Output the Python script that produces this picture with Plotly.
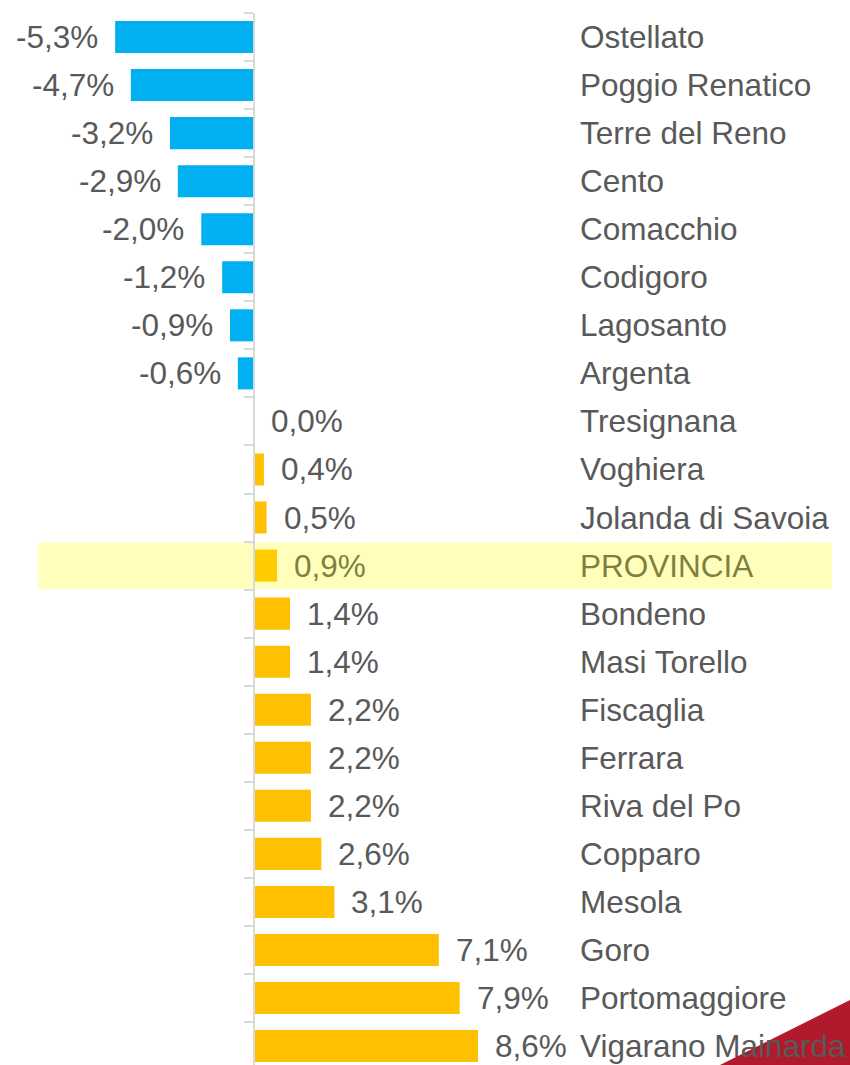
import plotly.graph_objects as go

categories = ["Ostellato", "Poggio Renatico", "Terre del Reno", "Cento", "Comacchio",
              "Codigoro", "Lagosanto", "Argenta", "Tresignana", "Voghiera",
              "Jolanda di Savoia", "PROVINCIA", "Bondeno", "Masi Torello", "Fiscaglia",
              "Ferrara", "Riva del Po", "Copparo", "Mesola", "Goro", "Portomaggiore",
              "Vigarano Mainarda"]
values = [-5.3, -4.7, -3.2, -2.9, -2.0, -1.2, -0.9, -0.6, 0.0, 0.4, 0.5, 0.9,
          1.4, 1.4, 2.2, 2.2, 2.2, 2.6, 3.1, 7.1, 7.9, 8.6]
highlight = "PROVINCIA"

W, H = 850, 1065
TOP = 13
PX_PER_UNIT = 26.1
ZERO_PX = 253.5
x0 = -ZERO_PX / PX_PER_UNIT
x1 = (W - ZERO_PX) / PX_PER_UNIT
row_px = 48.05
yr_bottom = -0.5 + (H - TOP) / row_px

NEG, POS, HIL = "#00B0F0", "#FFC000", "#FFCC00"
TXT, HTXT = "#595959", "#7F7F40"
FONT = "Liberation Sans, Arial, sans-serif"
FS = 31.5

colors = []
for c, v in zip(categories, values):
    if c == highlight:
        colors.append(HIL)
    elif v < 0:
        colors.append(NEG)
    else:
        colors.append(POS)

fig = go.Figure()
fig.add_trace(go.Bar(x=values, y=categories, orientation="h", marker_color=colors,
                     marker_line_width=0, width=0.667, hoverinfo="skip"))

annotations = []
for c, v in zip(categories, values):
    col = HTXT if c == highlight else TXT
    lab = f"{v:.1f}%".replace(".", ",")
    if v < 0:
        annotations.append(dict(x=v, y=c, text=lab, xanchor="right", xshift=-15,
                                showarrow=False, font=dict(size=FS, color=col, family=FONT)))
    else:
        annotations.append(dict(x=v, y=c, text=lab, xanchor="left", xshift=15,
                                showarrow=False, font=dict(size=FS, color=col, family=FONT)))
    annotations.append(dict(x=(578 - ZERO_PX) / PX_PER_UNIT, y=c, text=c, xanchor="left",
                            showarrow=False, font=dict(size=FS, color=col, family=FONT)))

hi = categories.index(highlight)

def py(p):
    return (H - p) / (H - TOP)

shapes = [
    dict(type="rect", xref="paper", yref="y", x0=38 / W, x1=832 / W,
         y0=hi - 0.48, y1=hi + 0.48, fillcolor="#FFFFBB", line_width=0, layer="below"),
    dict(type="path", xref="paper", yref="paper",
         path=f"M {720/W} {py(H)} Q {790/W} {py(1030)} {W/W} {py(1000)} L {W/W} {py(H)} Z",
         fillcolor="#B01A2C", line_width=0, layer="below"),
]

fig.update_layout(
    width=W, height=H,
    margin=dict(l=0, r=0, t=TOP, b=0),
    paper_bgcolor="white", plot_bgcolor="rgba(0,0,0,0)",
    showlegend=False,
    annotations=annotations, shapes=shapes,
    xaxis=dict(range=[x0, x1], showgrid=False, zeroline=False, showticklabels=False,
               ticks="", fixedrange=True),
    yaxis=dict(categoryorder="array", categoryarray=categories,
               range=[yr_bottom, -0.5], anchor="free", position=ZERO_PX / W,
               showline=True, linecolor="#D9D9D9", linewidth=2,
               ticks="outside", tickson="boundaries", ticklen=9, tickcolor="#D9D9D9",
               tickwidth=2, showticklabels=False, showgrid=False, zeroline=False),
)

fig.write_html("out.html", config={"displayModeBar": False},
               post_script="document.body.style.margin='0px';document.body.style.overflow='hidden';")
